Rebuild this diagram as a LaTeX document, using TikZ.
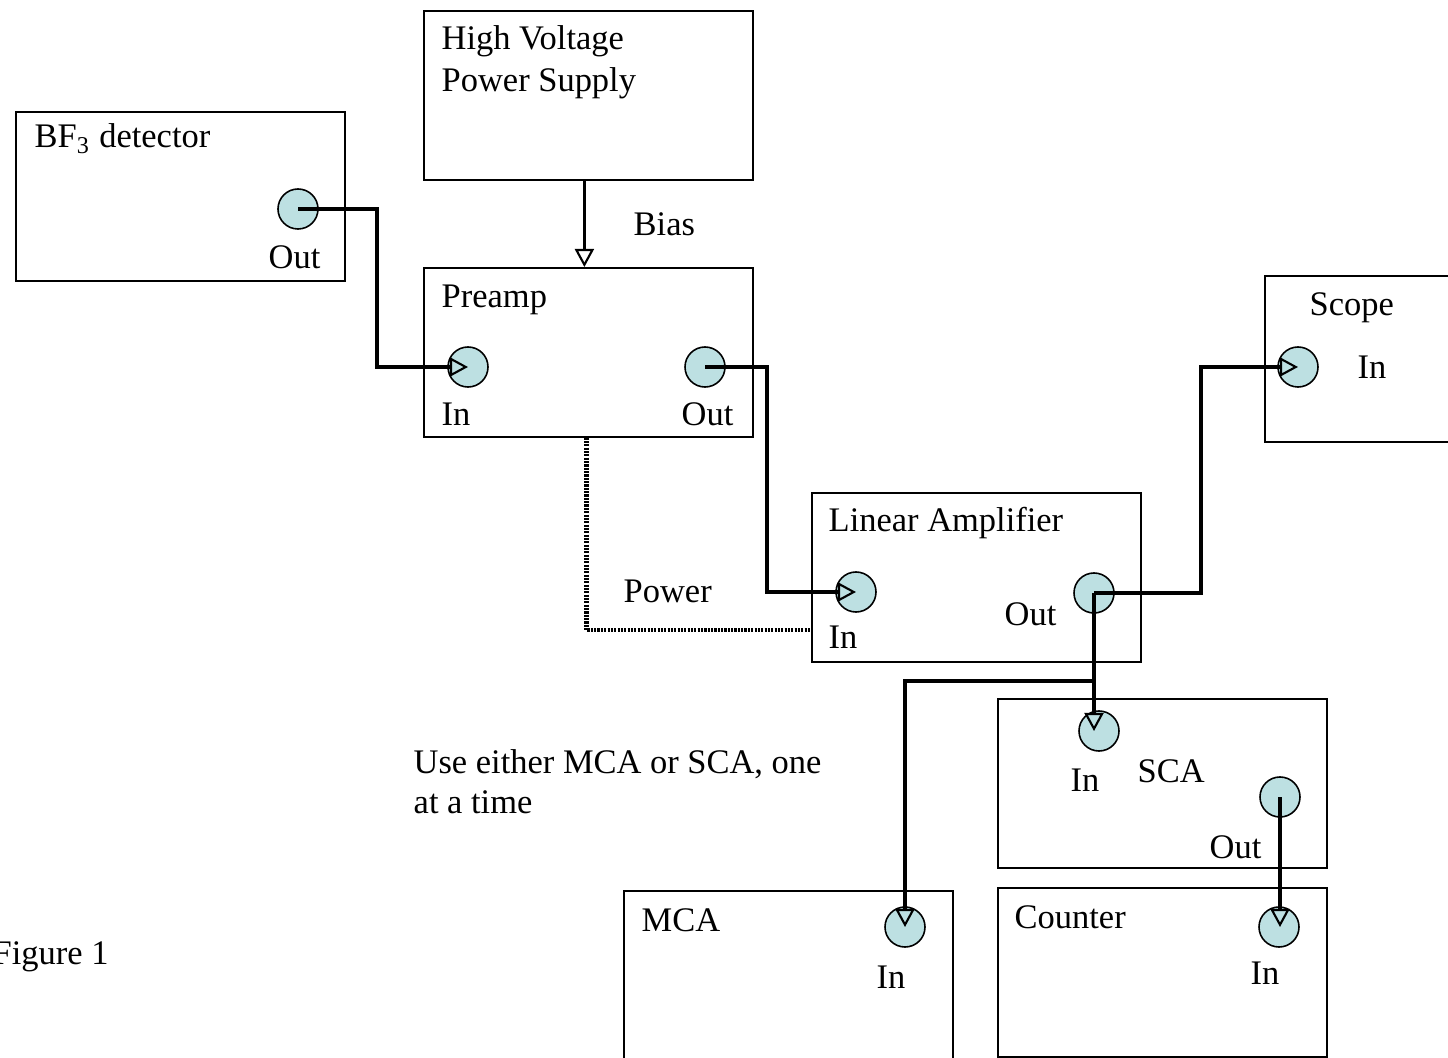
\documentclass[tikz,border=0pt]{standalone}
\usepackage{fontspec}
\setmainfont{Liberation Serif}
\usetikzlibrary{arrows.meta}
\definecolor{portc}{HTML}{BDE0E2}

\begin{document}
\begin{tikzpicture}[x=0.01cm, y=-0.01cm, font=\fontsize{9.8}{11.8}\selectfont,
      unit/.style={draw, line width=0.45pt, anchor=north west, minimum width=3.29cm, minimum height=1.69cm, inner sep=0pt},
      port/.style={circle, draw, line width=0.45pt, fill=portc, minimum size=0.4cm, inner sep=0pt},
      txt/.style={anchor=base west, inner sep=0pt},
      conn/.style={line width=0.9pt},
      sig/.style={conn, -{Triangle[open, length=1.8mm, width=1.9mm, line width=0.6pt]}},
      pwr/.style={line width=1.2pt, dash pattern=on 0.6pt off 0.35pt}]
    \clip (0,0) rectangle (1448,1058);
    % units
    \node[unit] (hv) at (423,10) {};
    \node[unit] (bf) at (15,111) {};
    \node[unit] (pre) at (423,267) {};
    \node[unit] (la) at (811,492) {};
    \node[unit, minimum height=1.66cm] (sc) at (1264,275) {};
    \node[unit] (sca) at (997,698) {};
    \node[unit, minimum height=1.8cm] (mca) at (623,890) {};
    \node[unit] (cnt) at (997,887) {};
    % ports
    \node[port] (bfout) at (298,209) {};
    \node[port] (prein) at (468,367) {};
    \node[port] (preout) at (705,367) {};
    \node[port] (lain) at (856,592) {};
    \node[port] (laout) at (1094,593) {};
    \node[port] (scin) at (1298,367) {};
    \node[port] (scain) at (1099,731) {};
    \node[port] (scaout) at (1280,797) {};
    \node[port] (mcain) at (905,927) {};
    \node[port] (cntin) at (1279,927) {};
    % texts
    \node[txt] (hvtxta) at (441,50) {High Voltage};
    \node[txt] (hvtxtb) at (441,92) {Power Supply};
    \node[txt] (bftxt) at (34,148) {BF\textsubscript{3} detector};
    \node[txt] (bfouttxt) at (268,269) {Out};
    \node[txt] (biastxt) at (633,236) {Bias};
    \node[txt] (pretxt) at (441,308) {Preamp};
    \node[txt] (preintxt) at (441,426) {In};
    \node[txt] (preouttxt) at (681,426) {Out};
    \node[txt] (latxt) at (828,532) {Linear Amplifier};
    \node[txt] (laintxt) at (828,649) {In};
    \node[txt] (laouttxt) at (1004,626) {Out};
    \node[txt] (pwrtxt) at (623,603) {Power};
    \node[txt] (sctxt) at (1309,316) {Scope};
    \node[txt] (scintxt) at (1357,379) {In};
    \node[txt] (scatxt) at (1137,782) {SCA};
    \node[txt] (scaintxt) at (1070,791) {In};
    \node[txt] (scaouttxt) at (1209,858) {Out};
    \node[txt] (mcatxt) at (641,931) {MCA};
    \node[txt] (mcaintxt) at (876,988) {In};
    \node[txt] (cnttxt) at (1014,928) {Counter};
    \node[txt] (cntintxt) at (1250,984) {In};
    \node[txt] (notea) at (413,773) {Use either MCA or SCA, one};
    \node[txt] (noteb) at (413,814) {at a time};
    \node[txt] (figtxt) at (-8,964) {Figure 1};
    % connections
    \draw[sig] ([xshift=-0.04cm]hv.south) -- ([xshift=-0.04cm]pre.north);
    \draw[pwr] ([xshift=-0.02cm]pre.south) |- ([yshift=-0.53cm]la.west);
    \draw[sig] (bfout.center) -- ++(79,0) |- (prein.center);
    \draw[sig] (preout.center) -- ++(62,0) |- (lain.center);
    \draw[sig] (laout.center) -- ++(107,0) |- (scin.center);
    \draw[sig] (laout.center) -- (laout.center |- scain.center);
    \coordinate (split) at (1094,681);
    \draw[sig] (split) -| (mcain.center);
    \draw[sig] (scaout.center) -- (scaout.center |- cntin.center);
\end{tikzpicture}
\end{document}
